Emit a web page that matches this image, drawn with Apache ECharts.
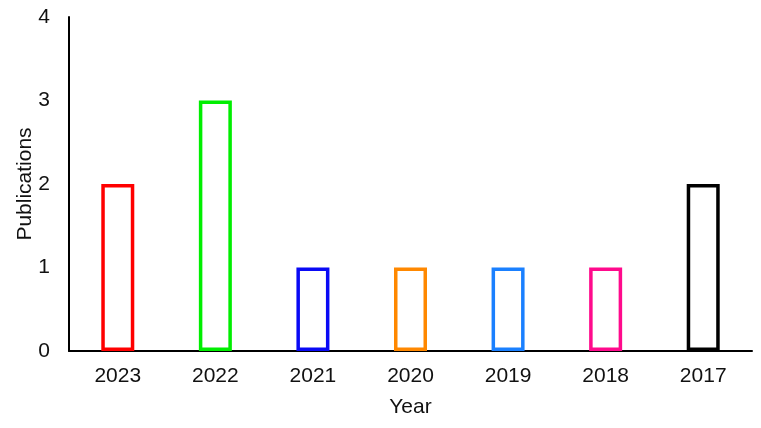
<!DOCTYPE html>
<html><head><meta charset="utf-8">
<script src="https://cdn.jsdelivr.net/npm/echarts@6/dist/echarts.min.js"></script>
<style>html,body{margin:0;padding:0;background:#fff}#c{width:761px;height:428px}</style>
</head><body><div id="c"></div>
<script>
var categories = ['2023','2022','2021','2020','2019','2018','2017'];
var publications = [2,3,1,1,1,1,2];
var barColors = ['#ff0000','#00ee00','#0a0af5','#ff8800','#1a80ff','#ff0a8c','#000000'];
var yTicks = [0,1,2,3,4];

var chart = echarts.init(document.getElementById('c'));
chart.setOption({
  animation:false,
  grid:{left:69,right:9,top:17,bottom:77,containLabel:false},
  xAxis:{type:'category',data:categories,name:'Year',nameLocation:'middle',nameGap:46,nameMoveOverlap:false,
    nameTextStyle:{fontFamily:'Liberation Sans',fontSize:21,color:'#111'},
    axisLine:{lineStyle:{color:'#000',width:2}},axisTick:{show:false},
    axisLabel:{fontFamily:'Liberation Sans',fontSize:21,color:'#111',margin:15}},
  yAxis:{type:'value',min:yTicks[0],max:yTicks[yTicks.length-1],interval:1,name:'Publications',nameLocation:'middle',nameGap:33,nameMoveOverlap:false,
    nameTextStyle:{fontFamily:'Liberation Sans',fontSize:21,color:'#111'},
    axisLine:{show:true,lineStyle:{color:'#000',width:2}},axisTick:{show:false},splitLine:{show:false},
    axisLabel:{fontFamily:'Liberation Sans',fontSize:21,color:'#111',margin:19}},
  series:[{type:'bar',barWidth:33,
    data:publications.map(function(v,i){return {value:v,itemStyle:{color:'rgba(255,255,255,0)',borderColor:barColors[i],borderWidth:3.5}};})}]
});
</script></body></html>
